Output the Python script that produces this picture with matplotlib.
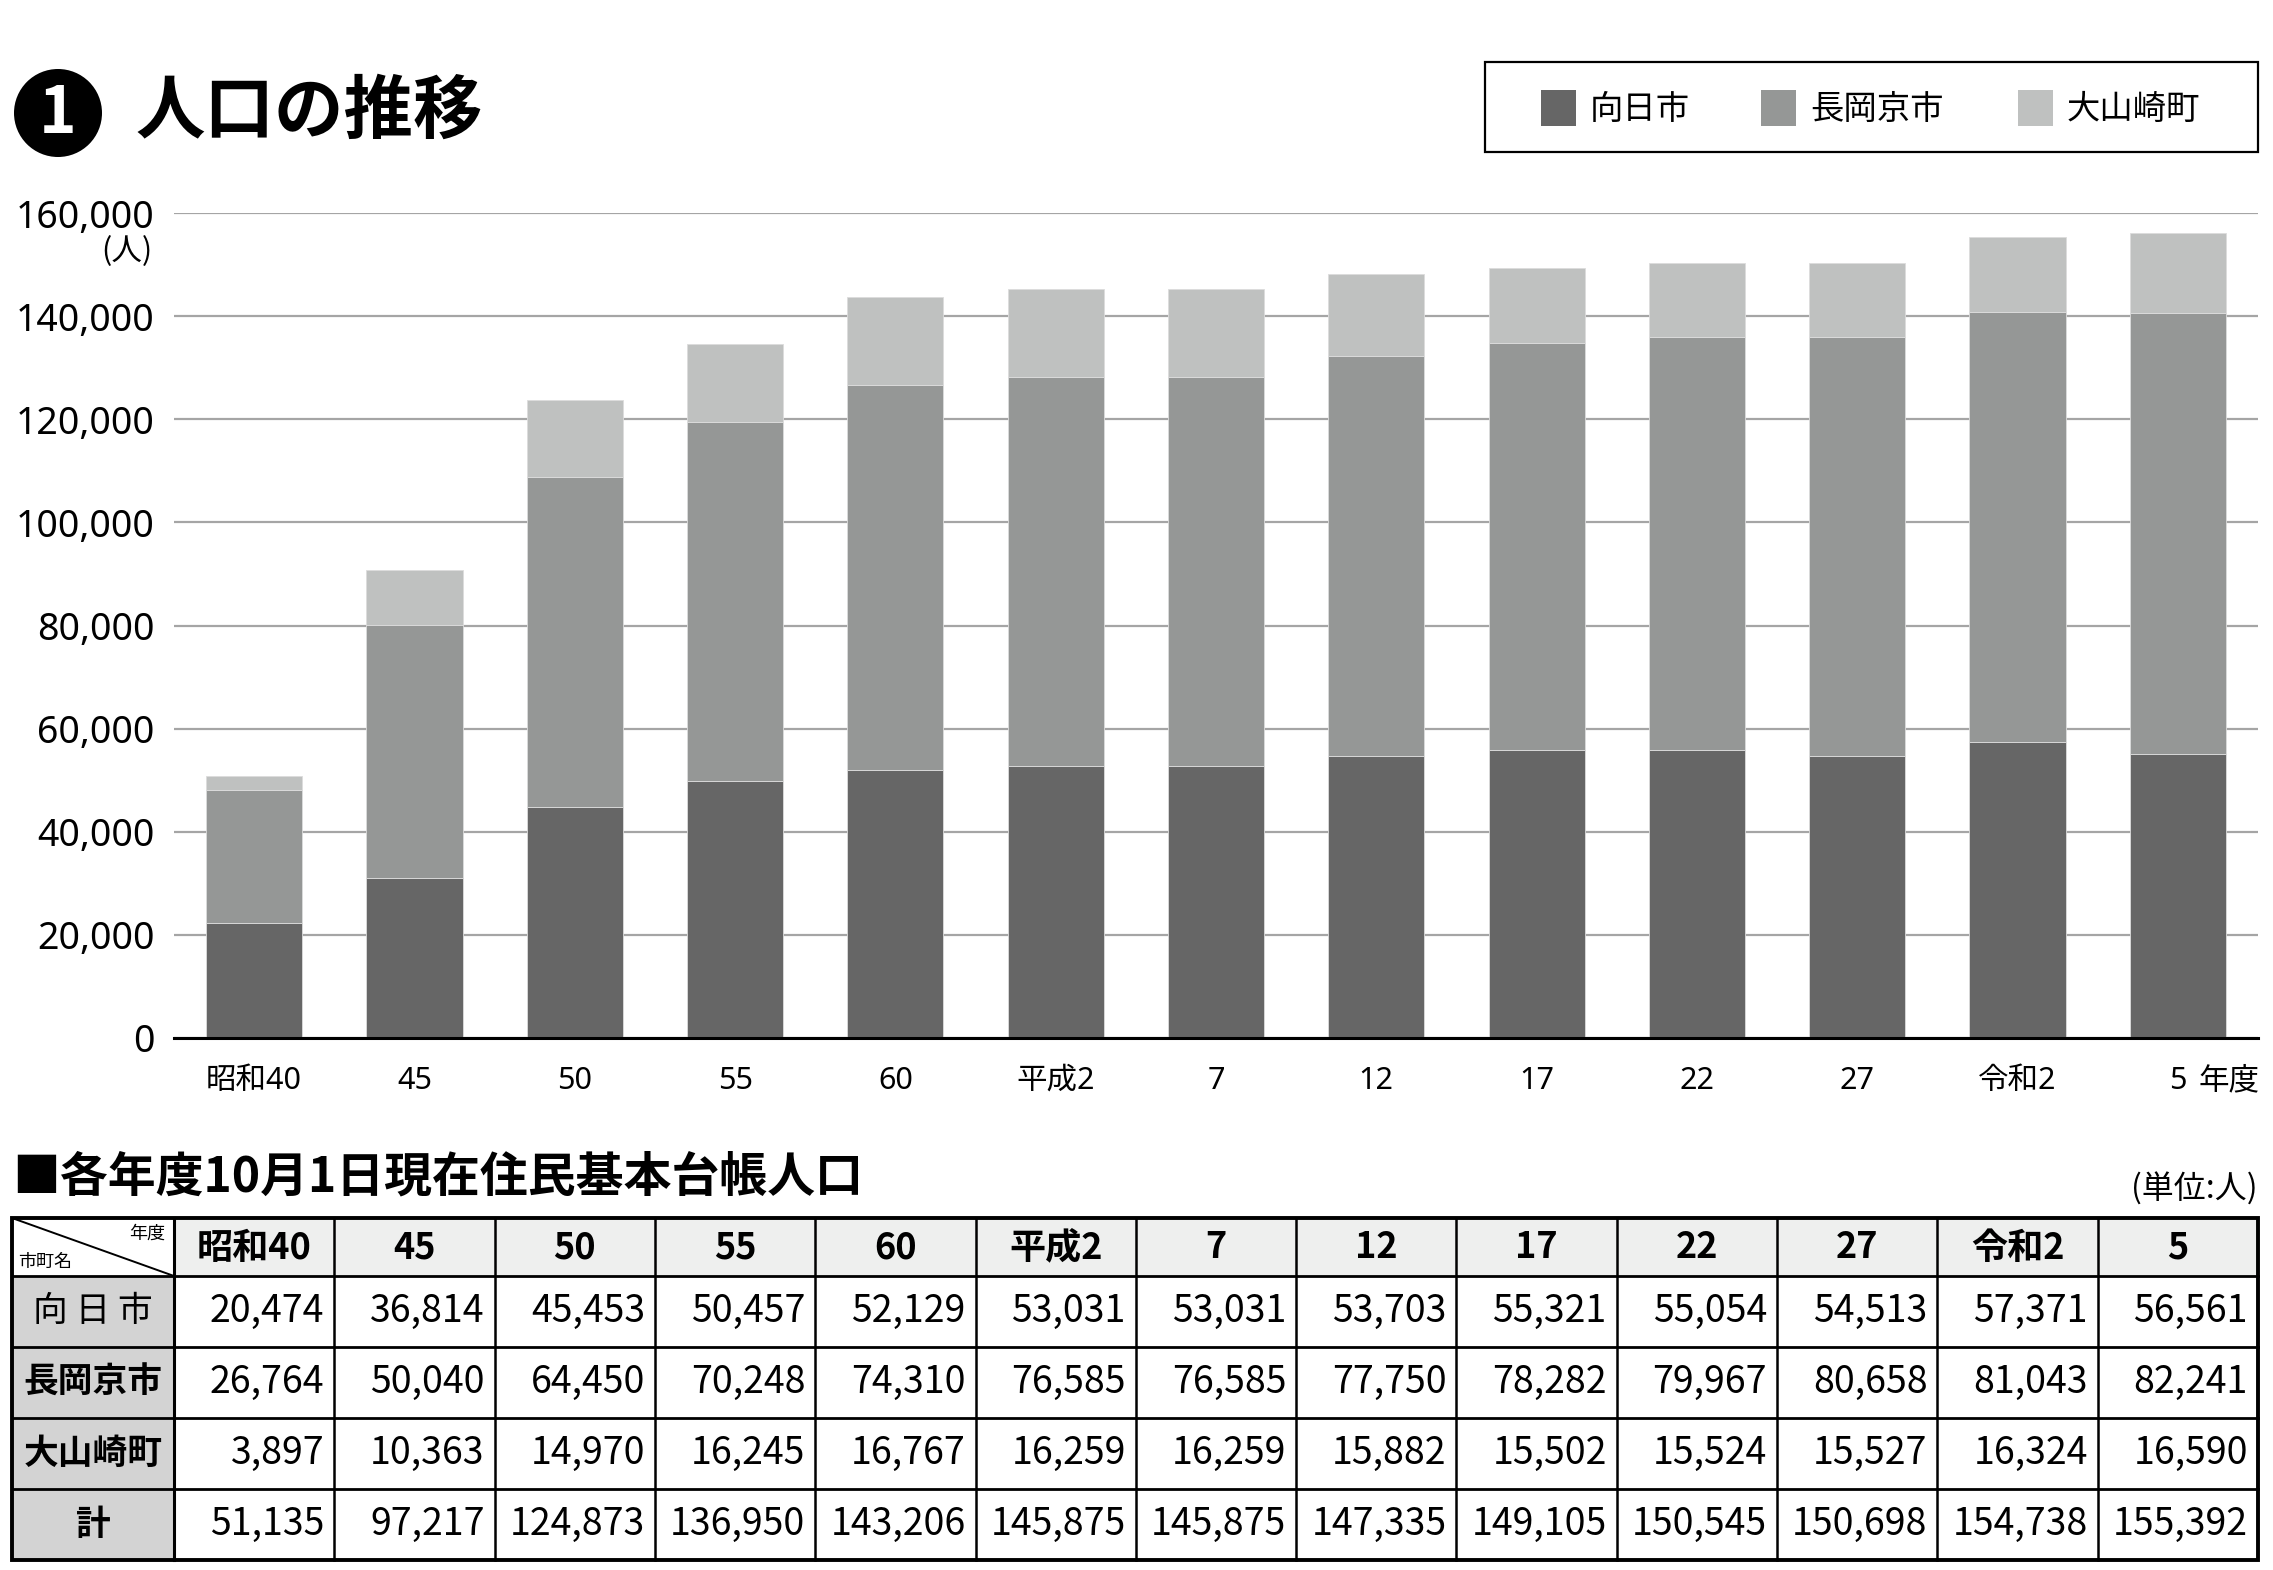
import matplotlib
matplotlib.use('Agg')
import matplotlib.pyplot as plt
import matplotlib.patches as mpatches
from matplotlib.lines import Line2D
import numpy as np

plt.rcParams['font.family'] = ['Noto Sans CJK JP', 'DejaVu Sans']
LATIN = ['Noto Sans', 'Noto Sans CJK JP']

# ─── データ ───────────────────────────────────────────────────────────────
YEARS = ['昭和40', '45', '50', '55', '60', '平成2', '7', '12', '17', '22', '27', '令和2', '5']
SERIES = ['向日市', '長岡京市', '大山崎町']
COLORS = ['#666666', '#959796', '#bfc1c0']

# グラフの棒
MUKO_BAR    = [22400, 31000, 44800, 49900, 51900, 52800, 52800, 54600, 55900, 55900, 54700, 57400, 55100]
NAGAOKA_BAR = [25700, 49100, 64000, 69600, 74700, 75400, 75400, 77700, 78800, 80000, 81200, 83400, 85600]
OYAMA_BAR   = [2700, 10700, 14900, 15000, 17100, 17000, 17000, 15800, 14600, 14500, 14500, 14600, 15500]

# 表の数値
ROW_LABELS  = ['向 日 市', '長岡京市', '大山崎町', '計']
MUKO_TBL    = [20474, 36814, 45453, 50457, 52129, 53031, 53031, 53703, 55321, 55054, 54513, 57371, 56561]
NAGAOKA_TBL = [26764, 50040, 64450, 70248, 74310, 76585, 76585, 77750, 78282, 79967, 80658, 81043, 82241]
OYAMA_TBL   = [3897, 10363, 14970, 16245, 16767, 16259, 16259, 15882, 15502, 15524, 15527, 16324, 16590]
TOTAL_TBL   = [51135, 97217, 124873, 136950, 143206, 145875, 145875, 147335, 149105, 150545, 150698, 154738, 155392]

YTICKS = np.arange(0, 160001, 20000)

# ─── レイアウト(ピクセル) ───────────────────────────────────────────────
W, H = 2273, 1570
AX_L, AX_R, AX_T, AX_B = 174, 2258, 213, 1038

fig = plt.figure(figsize=(W / 100, H / 100), dpi=100, facecolor='white')

# 全体用オーバーレイ(ピクセル座標)
ov = fig.add_axes([0, 0, 1, 1])
ov.set_xlim(0, W)
ov.set_ylim(H, 0)
ov.axis('off')

# ── グラフ ────────────────────────────────────────────────────────────────
ax = fig.add_axes([AX_L / W, (H - AX_B) / H, (AX_R - AX_L) / W, (AX_B - AX_T) / H])
x = np.arange(len(YEARS))
bottom = np.zeros(len(YEARS))
for vals, col, name in zip([MUKO_BAR, NAGAOKA_BAR, OYAMA_BAR], COLORS, SERIES):
    ax.bar(x, vals, width=0.6, bottom=bottom, color=col, edgecolor='#dcdcdc',
           linewidth=0.6, label=name, zorder=3)
    bottom += np.array(vals)

ax.set_xlim(-0.5, len(YEARS) - 0.5)
ax.set_ylim(0, 160000)
ax.set_yticks(YTICKS)
ax.set_yticklabels([f'{v:,}' for v in YTICKS], fontsize=27, family=LATIN)
ax.set_xticks(x)
ax.set_xticklabels(YEARS, fontsize=22, family=LATIN)
ax.tick_params(axis='y', length=0, pad=14)
ax.tick_params(axis='x', length=0, pad=20)
ax.grid(axis='y', color='#a5a5a5', linewidth=1.6, zorder=0)
ax.set_axisbelow(True)
for s in ['top', 'right', 'left']:
    ax.spines[s].set_visible(False)
ax.spines['bottom'].set_linewidth(2.2)
ax.spines['bottom'].set_zorder(5)
ax.annotate('年度', xy=(len(YEARS) - 1, 0), xycoords=('data', 'axes fraction'),
            xytext=(15, -31), textcoords='offset points',
            ha='left', va='center', fontsize=22)
ov.text(152, 252, '(人)', ha='right', va='center', fontsize=22)

# ── タイトル ─────────────────────────────────────────────────────────────
ov.add_patch(mpatches.Circle((58, 113), 44, facecolor='black', edgecolor='none'))
ov.text(58, 114, '1', ha='center', va='center', fontsize=46, fontweight='bold',
        color='white')
ov.text(135, 112, '人口の推移', ha='left', va='center', fontsize=50, fontweight='bold')

# ── 凡例 ─────────────────────────────────────────────────────────────────
ov.add_patch(mpatches.Rectangle((1485, 62), 773, 90, facecolor='white',
             edgecolor='black', linewidth=1.6))
for name, col, sx in zip(SERIES, COLORS, [1541, 1761, 2018]):
    ov.add_patch(mpatches.Rectangle((sx, 90), 35, 36, facecolor=col, edgecolor='none'))
    ov.text(sx + 49, 109, name, ha='left', va='center', fontsize=24)

# ── 表 ───────────────────────────────────────────────────────────────────
ov.text(12, 1177, '■各年度10月1日現在住民基本台帳人口', ha='left', va='center',
        fontsize=34.5, fontweight='bold')
ov.text(2258, 1189, '(単位:人)', ha='right', va='center', fontsize=23)

T_L, T_R = 12, 2258
C0 = 174
T_TOP, HDR_B = 1218, 1276
row_edges = [1276, 1347, 1418, 1489, 1560]
ncol = len(YEARS)
cw = (T_R - C0) / ncol
col_edges = [C0 + i * cw for i in range(ncol + 1)]

# 背景
ov.add_patch(mpatches.Rectangle((C0, T_TOP), T_R - C0, HDR_B - T_TOP,
             facecolor='#eeefee', edgecolor='none'))
ov.add_patch(mpatches.Rectangle((T_L, HDR_B), C0 - T_L, row_edges[-1] - HDR_B,
             facecolor='#d3d3d3', edgecolor='none'))

# 罫線
for yy in [HDR_B] + row_edges[1:-1]:
    ov.add_line(Line2D([T_L, T_R], [yy, yy], color='black', linewidth=2.0))
for xx in col_edges[1:-1]:
    ov.add_line(Line2D([xx, xx], [T_TOP, row_edges[-1]], color='black', linewidth=1.8))
ov.add_line(Line2D([C0, C0], [T_TOP, row_edges[-1]], color='black', linewidth=2.2))
ov.add_patch(mpatches.Rectangle((T_L, T_TOP), T_R - T_L, row_edges[-1] - T_TOP,
             facecolor='none', edgecolor='black', linewidth=2.8))
ov.add_line(Line2D([T_L, C0], [T_TOP, HDR_B], color='black', linewidth=1.4))
ov.text(165, 1234, '年度', ha='right', va='center', fontsize=13)
ov.text(18, 1262, '市町名', ha='left', va='center', fontsize=13)

# 見出し
for i, lab in enumerate(YEARS):
    ov.text((col_edges[i] + col_edges[i + 1]) / 2, (T_TOP + HDR_B) / 2 + 1, lab,
            ha='center', va='center', fontsize=26, fontweight='bold')

# 数値
for r, (lab, vals) in enumerate(zip(ROW_LABELS, [MUKO_TBL, NAGAOKA_TBL, OYAMA_TBL, TOTAL_TBL])):
    yc = (row_edges[r] + row_edges[r + 1]) / 2
    ov.text((T_L + C0) / 2, yc, lab, ha='center', va='center', fontsize=25,
            fontweight='normal' if r == 0 else 'bold')
    for i, v in enumerate(vals):
        ov.text(col_edges[i + 1] - 10, yc, f'{v:,}', ha='right', va='center', fontsize=27)

fig.savefig('out.png', dpi=100, facecolor='white')
